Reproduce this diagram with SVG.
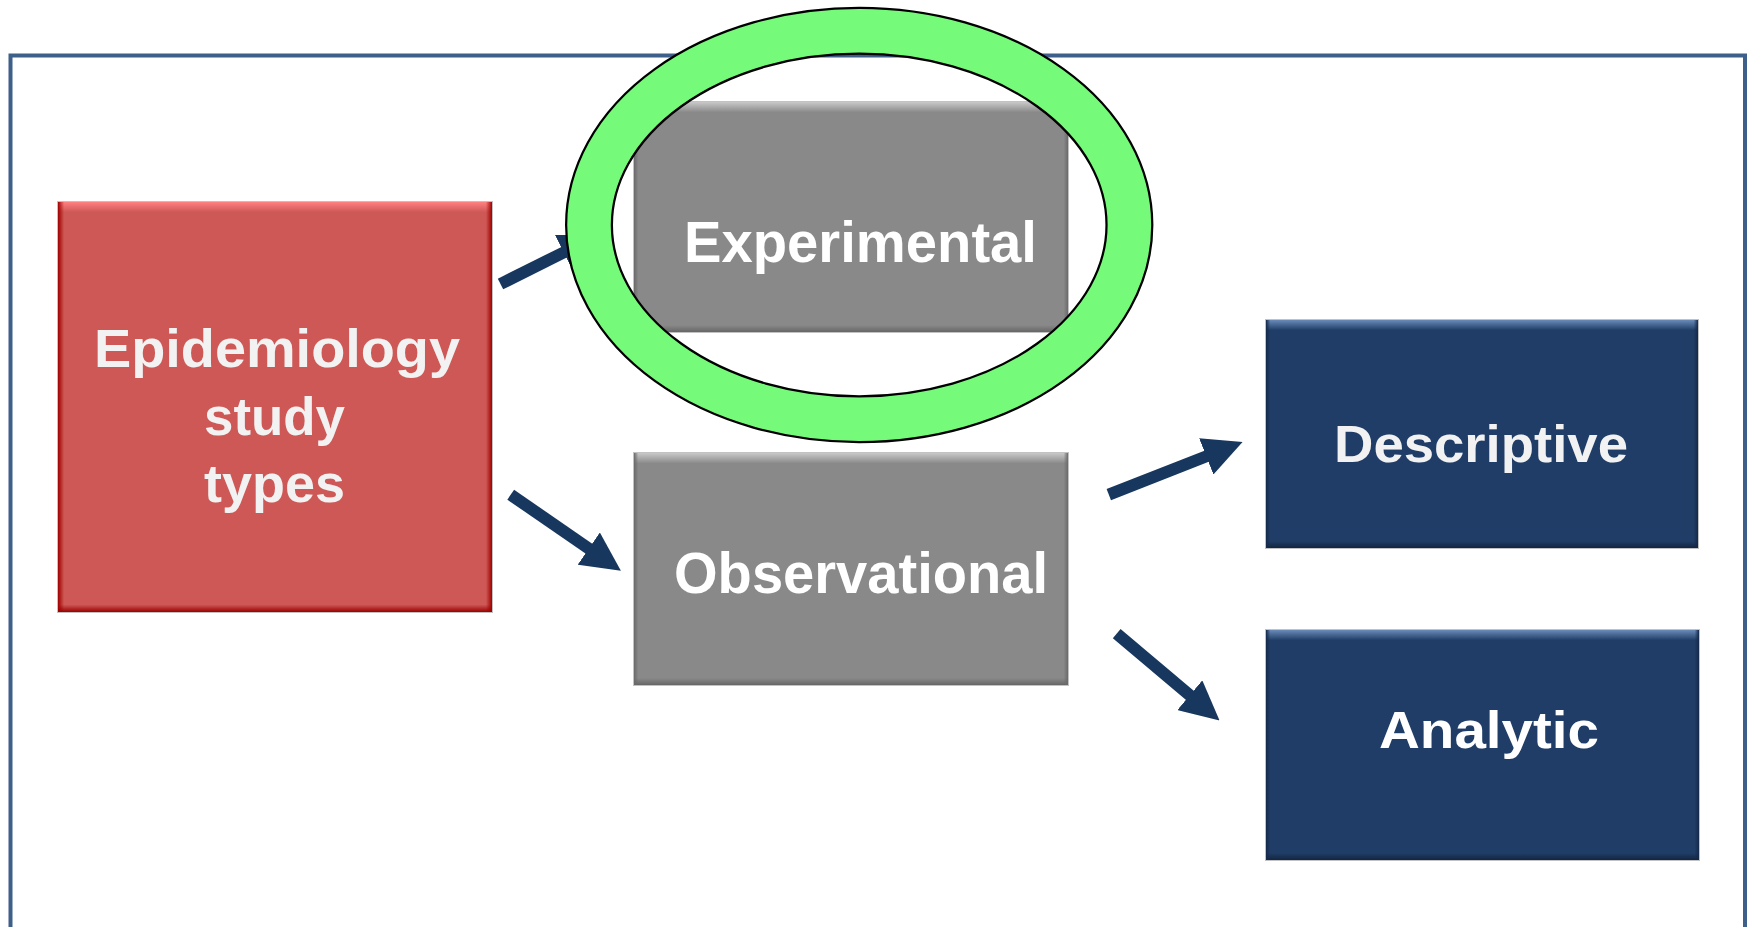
<svg xmlns="http://www.w3.org/2000/svg" width="1751" height="927" viewBox="0 0 1751 927">
<style>
.lbl{font-family:"Liberation Sans",Arial,sans-serif;font-weight:bold;fill:#F2F2F2}
.conn{stroke:#17375E;stroke-width:12;fill:none;stroke-linecap:butt}
.edge{fill:none;stroke:#A8A8A8;stroke-width:1;stroke-opacity:0.7}
</style>
<defs>
<marker id="head" markerUnits="userSpaceOnUse" viewBox="0 -19.5 39 39" refX="1" refY="0" markerWidth="39" markerHeight="39" orient="auto">
<path d="M0,-19.5 L39,0 L0,19.5 Z" fill="#17375E"/>
</marker>
<linearGradient id="redV" x1="0" y1="0" x2="0" y2="1">
<stop offset="0" stop-color="#FF8080"/>
<stop offset="0.025" stop-color="#CD5855"/>
<stop offset="0.982" stop-color="#CD5855"/>
<stop offset="1" stop-color="#9C0000"/>
</linearGradient>
<linearGradient id="redH" x1="0" y1="0" x2="1" y2="0">
<stop offset="0" stop-color="#A00000" stop-opacity="1"/>
<stop offset="0.014" stop-color="#A00000" stop-opacity="0"/>
<stop offset="0.986" stop-color="#A00000" stop-opacity="0"/>
<stop offset="1" stop-color="#A00000" stop-opacity="1"/>
</linearGradient>
<linearGradient id="grayV" x1="0" y1="0" x2="0" y2="1">
<stop offset="0" stop-color="#C8C8C8"/>
<stop offset="0.045" stop-color="#898989"/>
<stop offset="0.97" stop-color="#898989"/>
<stop offset="1" stop-color="#666666"/>
</linearGradient>
<linearGradient id="grayH" x1="0" y1="0" x2="1" y2="0">
<stop offset="0" stop-color="#6A6A6A" stop-opacity="1"/>
<stop offset="0.01" stop-color="#6A6A6A" stop-opacity="0"/>
<stop offset="0.99" stop-color="#6A6A6A" stop-opacity="0"/>
<stop offset="1" stop-color="#6A6A6A" stop-opacity="1"/>
</linearGradient>
<linearGradient id="navyV" x1="0" y1="0" x2="0" y2="1">
<stop offset="0" stop-color="#6A8BB8"/>
<stop offset="0.045" stop-color="#1F3D66"/>
<stop offset="0.97" stop-color="#1F3D66"/>
<stop offset="1" stop-color="#12253F"/>
</linearGradient>
<linearGradient id="navyH" x1="0" y1="0" x2="1" y2="0">
<stop offset="0" stop-color="#14294A" stop-opacity="1"/>
<stop offset="0.01" stop-color="#14294A" stop-opacity="0"/>
<stop offset="0.99" stop-color="#14294A" stop-opacity="0"/>
<stop offset="1" stop-color="#14294A" stop-opacity="1"/>
</linearGradient>
</defs>

<rect x="0" y="0" width="1751" height="927" fill="#FFFFFF"/>

<g id="frame">
<path d="M10.5,927 V55.5 H1745 V927" fill="none" stroke="#3E5F8A" stroke-width="4"/>
</g>

<g id="connectors">
<line class="conn" x1="500.5" y1="284" x2="564.6" y2="252" marker-end="url(#head)"/>
<line class="conn" x1="510.7" y1="494.7" x2="589.6" y2="549.1" marker-end="url(#head)"/>
<line class="conn" x1="1108.8" y1="494.7" x2="1207.2" y2="456" marker-end="url(#head)"/>
<line class="conn" x1="1116.7" y1="633.7" x2="1190.5" y2="695.9" marker-end="url(#head)"/>
</g>

<g id="node-epidemiology">
<rect x="58" y="202" width="434" height="410" fill="url(#redV)"/>
<rect x="58" y="202" width="434" height="410" fill="url(#redH)"/>
<rect class="edge" x="57.5" y="201.5" width="435" height="411"/>
<text class="lbl" font-size="54" x="94" y="367" textLength="366" lengthAdjust="spacingAndGlyphs">Epidemiology</text>
<text class="lbl" font-size="54" x="204" y="435" textLength="141" lengthAdjust="spacingAndGlyphs">study</text>
<text class="lbl" font-size="54" x="204" y="502" textLength="141" lengthAdjust="spacingAndGlyphs">types</text>
</g>

<g id="node-experimental">
<rect x="634" y="102" width="434" height="230" fill="url(#grayV)"/>
<rect x="634" y="102" width="434" height="230" fill="url(#grayH)"/>
<rect class="edge" x="633.5" y="101.5" width="435" height="231"/>
<text class="lbl" font-size="58" x="684" y="261.5" textLength="353" lengthAdjust="spacingAndGlyphs" style="fill:#FFFFFF">Experimental</text>
</g>

<g id="node-observational">
<rect x="634" y="453" width="434" height="232" fill="url(#grayV)"/>
<rect x="634" y="453" width="434" height="232" fill="url(#grayH)"/>
<rect class="edge" x="633.5" y="452.5" width="435" height="233"/>
<text class="lbl" font-size="58" x="674" y="592.5" textLength="374" lengthAdjust="spacingAndGlyphs" style="fill:#FFFFFF">Observational</text>
</g>

<g id="node-descriptive">
<rect x="1266" y="320" width="432" height="228" fill="url(#navyV)"/>
<rect x="1266" y="320" width="432" height="228" fill="url(#navyH)"/>
<rect class="edge" x="1265.5" y="319.5" width="433" height="229"/>
<text class="lbl" font-size="52" x="1334" y="462" textLength="294" lengthAdjust="spacingAndGlyphs">Descriptive</text>
</g>

<g id="node-analytic">
<rect x="1266" y="630" width="433" height="230" fill="url(#navyV)"/>
<rect x="1266" y="630" width="433" height="230" fill="url(#navyH)"/>
<rect class="edge" x="1265.5" y="629.5" width="434" height="231"/>
<text class="lbl" font-size="52" x="1379" y="748" textLength="220" lengthAdjust="spacingAndGlyphs" style="fill:#FFFFFF">Analytic</text>
</g>

<g id="highlight-ring">
<ellipse cx="859.2" cy="225" rx="270.2" ry="194.2" fill="none" stroke="#000000" stroke-width="48"/>
<ellipse cx="859.2" cy="225" rx="270.2" ry="194.2" fill="none" stroke="#76FA79" stroke-width="43.5"/>
</g>
</svg>
